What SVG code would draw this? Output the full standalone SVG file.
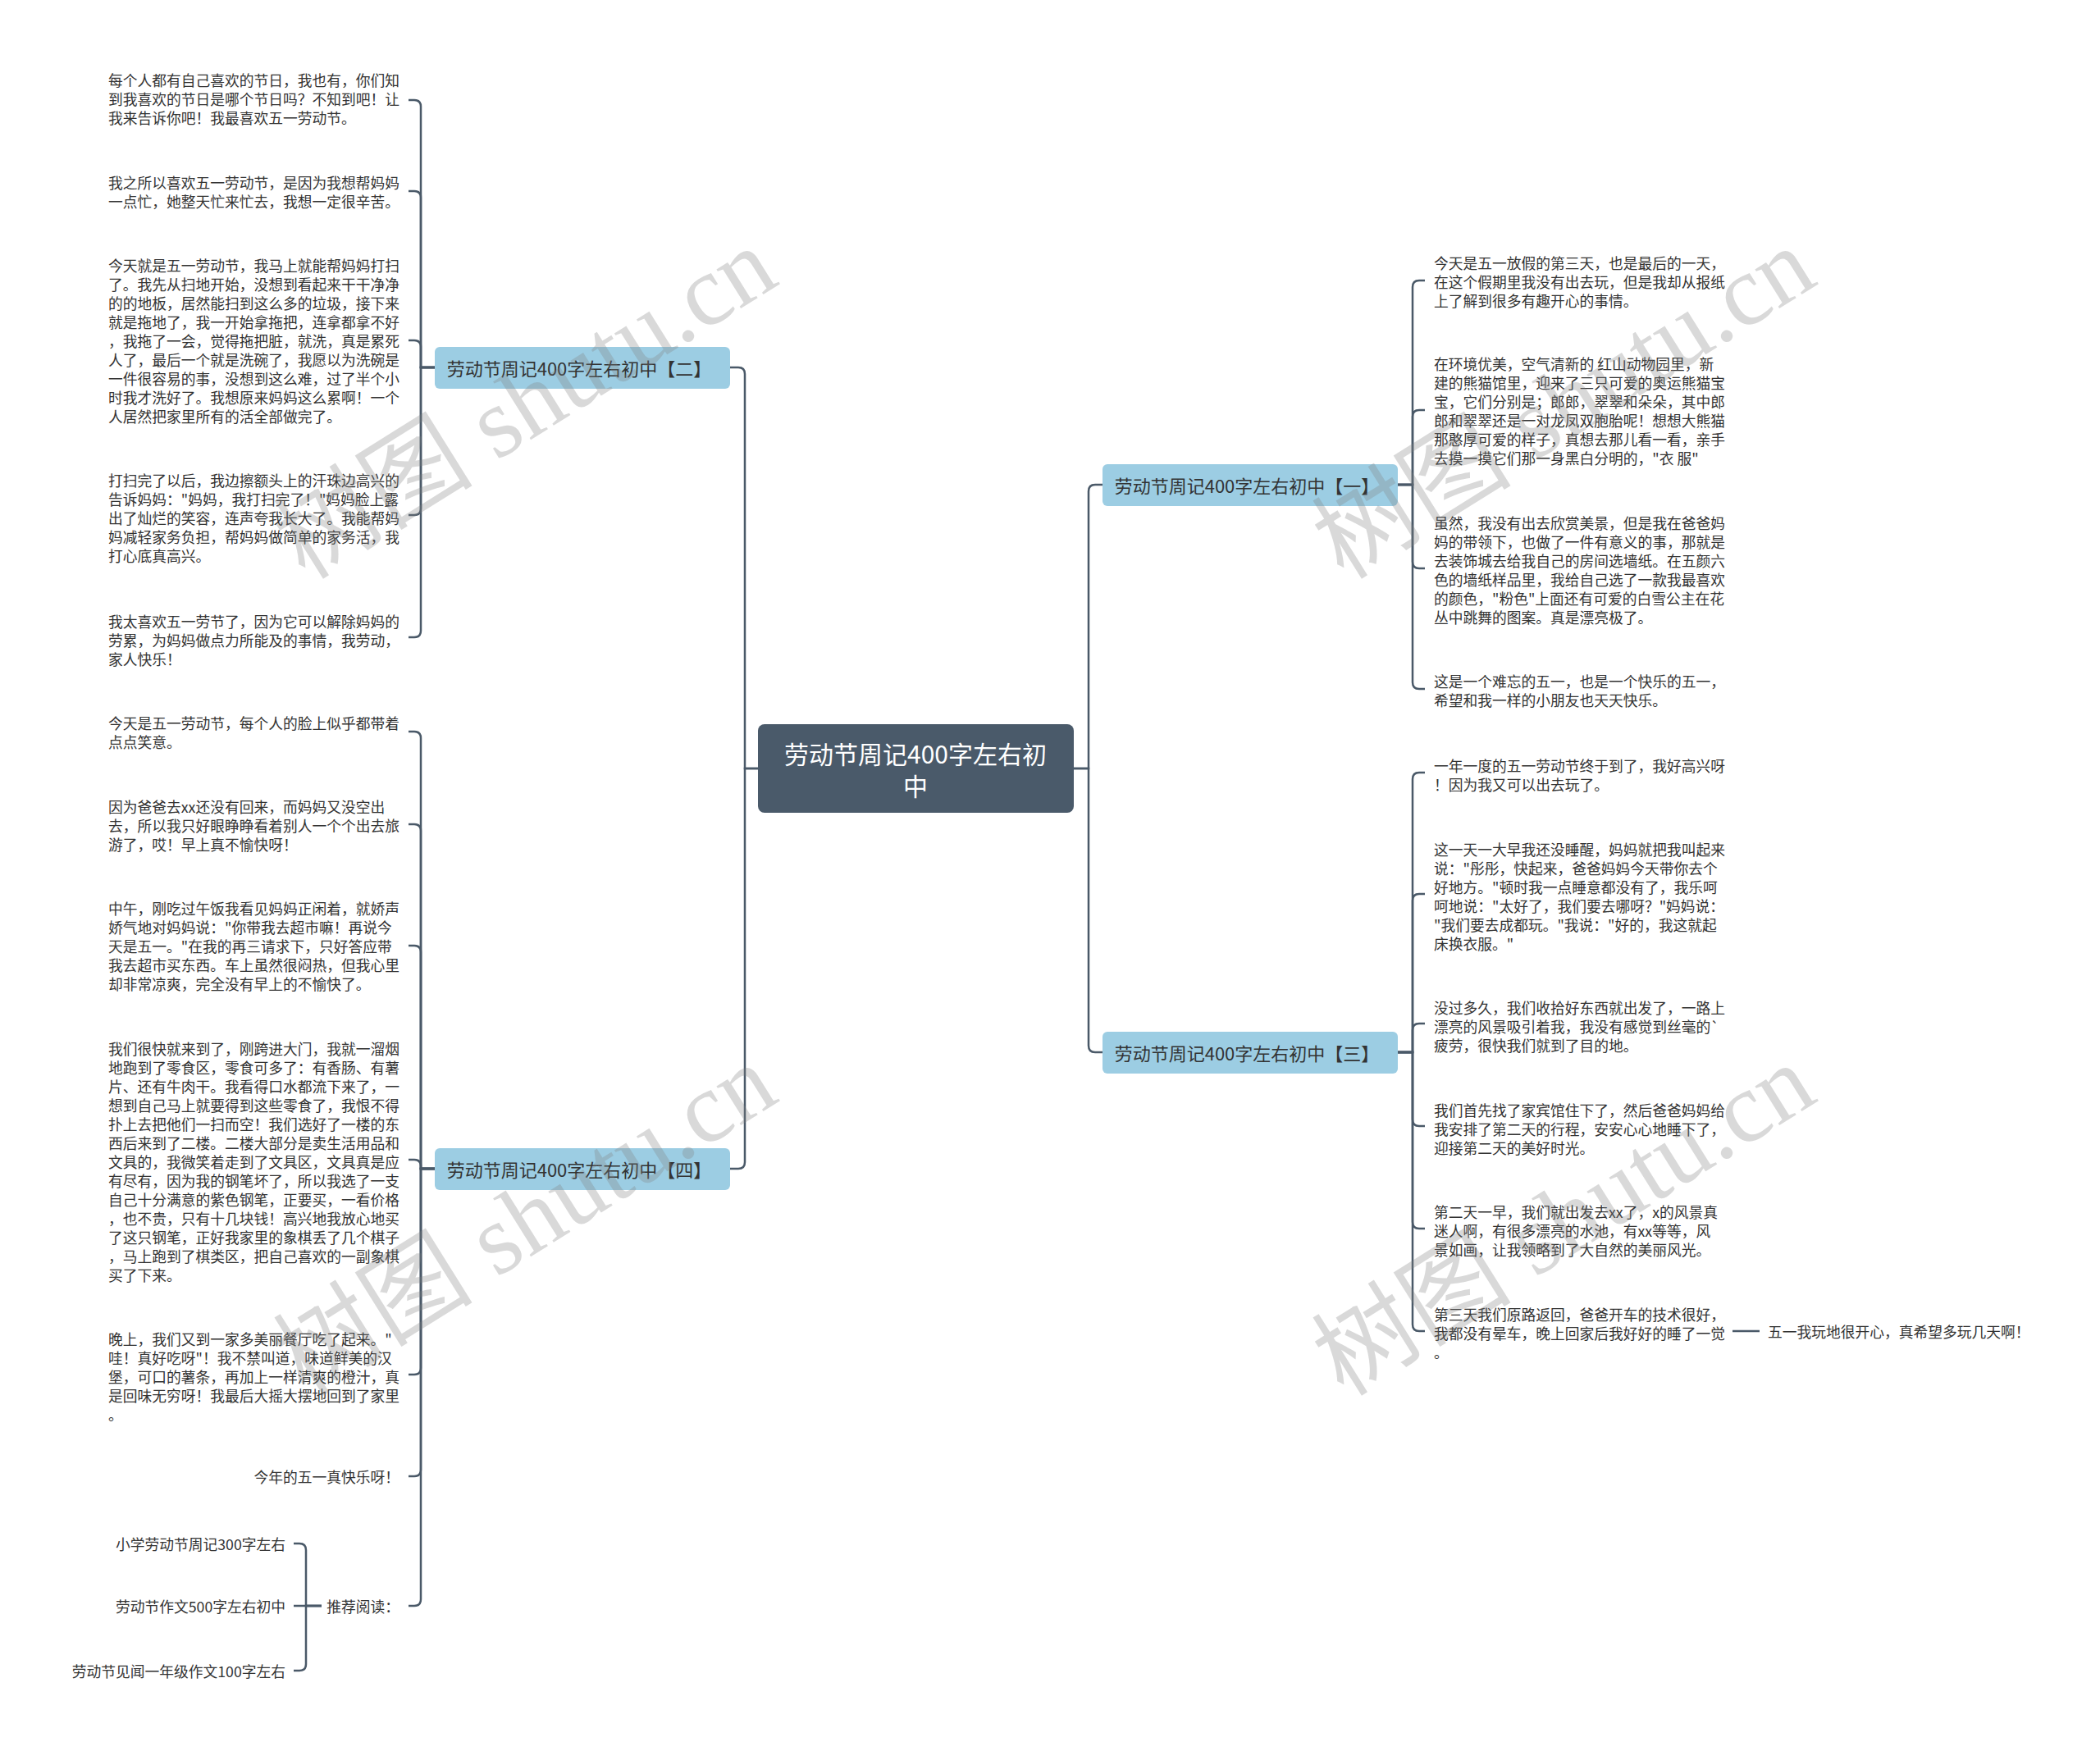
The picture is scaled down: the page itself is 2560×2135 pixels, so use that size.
<svg xmlns="http://www.w3.org/2000/svg" width="2560" height="2135" viewBox="0 0 2560 2135">
<style>
.t{font-family:"Noto Sans CJK SC","Liberation Sans",sans-serif;font-size:17.75px;fill:#333;dominant-baseline:central}
.r{text-anchor:end}
.bn rect{fill:#9ccde3}
.bn text{font-family:"Noto Sans CJK SC","Liberation Sans",sans-serif;font-size:22px;fill:#333;text-anchor:middle;dominant-baseline:central}
.cn rect{fill:#4a5a6a}
.cn text{font-family:"Noto Sans CJK SC","Liberation Sans",sans-serif;font-size:30px;fill:#fff;text-anchor:middle;dominant-baseline:central}
#connectors path{fill:none;stroke:#4a5968;stroke-width:2.5}
.wm{font-family:"Liberation Serif","Noto Sans CJK SC",serif;font-size:122px;fill:#808080;fill-opacity:.3}
</style>
<rect width="2560" height="2135" fill="#fff"/>
<g id="connectors">
<path d="M924,937 H908 V456 Q908,448 900,448 H890"/>
<path d="M924,937 H908 V1417 Q908,1425 900,1425 H890"/>
<path d="M1309,937 H1327 V599 Q1327,591 1335,591 H1344"/>
<path d="M1309,937 H1327 V1275 Q1327,1283 1335,1283 H1344"/>
<path d="M530,448 H513 V130 Q513,122 505,122 H498"/>
<path d="M530,448 H513 V241 Q513,233 505,233 H498"/>
<path d="M530,448 H513 V423 Q513,415 505,415 H498"/>
<path d="M530,448 H513 V620 Q513,628 505,628 H498"/>
<path d="M530,448 H513 V769 Q513,777 505,777 H498"/>
<path d="M530,1425 H513 V900 Q513,892 505,892 H498"/>
<path d="M530,1425 H513 V1013 Q513,1005 505,1005 H498"/>
<path d="M530,1425 H513 V1161 Q513,1153 505,1153 H498"/>
<path d="M530,1425 H513 V1422 Q513,1414 505,1414 H498"/>
<path d="M530,1425 H513 V1668 Q513,1676 505,1676 H498"/>
<path d="M530,1425 H513 V1792 Q513,1800 505,1800 H498"/>
<path d="M530,1425 H513 V1950 Q513,1958 505,1958 H498"/>
<path d="M392,1958 H373 V1890 Q373,1882 365,1882 H358"/>
<path d="M392,1958 H358"/>
<path d="M392,1958 H373 V2029 Q373,2037 365,2037 H358"/>
<path d="M1704,591 H1722 V350 Q1722,342 1730,342 H1737"/>
<path d="M1704,591 H1722 V508 Q1722,500 1730,500 H1737"/>
<path d="M1704,591 H1722 V685 Q1722,693 1730,693 H1737"/>
<path d="M1704,591 H1722 V832 Q1722,840 1730,840 H1737"/>
<path d="M1704,1283 H1722 V950 Q1722,942 1730,942 H1737"/>
<path d="M1704,1283 H1722 V1098 Q1722,1090 1730,1090 H1737"/>
<path d="M1704,1283 H1722 V1256 Q1722,1248 1730,1248 H1737"/>
<path d="M1704,1283 H1722 V1365 Q1722,1373 1730,1373 H1737"/>
<path d="M1704,1283 H1722 V1490 Q1722,1498 1730,1498 H1737"/>
<path d="M1704,1283 H1722 V1615 Q1722,1623 1730,1623 H1737"/>
<path d="M2112,1623 H2145"/>
</g>
<g id="center" class="cn"><rect x="924" y="883" width="385" height="108" rx="8"/><text x="1116" y="918">劳动节周记400字左右初</text><text x="1116" y="957">中</text></g>
<g id="b2" class="bn"><rect x="530" y="423" width="360" height="51" rx="6"/><text x="706" y="448">劳动节周记400字左右初中【二】</text></g>
<g id="b4" class="bn"><rect x="530" y="1400" width="360" height="51" rx="6"/><text x="706" y="1425">劳动节周记400字左右初中【四】</text></g>
<g id="b1" class="bn"><rect x="1344" y="566" width="360" height="51" rx="6"/><text x="1520" y="591">劳动节周记400字左右初中【一】</text></g>
<g id="b3" class="bn"><rect x="1344" y="1258" width="360" height="51" rx="6"/><text x="1520" y="1283">劳动节周记400字左右初中【三】</text></g>

<g id="l2-1"><text class="t" x="132"><tspan x="132" y="97">每个人都有自己喜欢的节日，我也有，你们知</tspan><tspan x="132" y="120">到我喜欢的节日是哪个节日吗？不知到吧！让</tspan><tspan x="132" y="143">我来告诉你吧！我最喜欢五一劳动节。</tspan></text></g>
<g id="l2-2"><text class="t"><tspan x="132" y="222">我之所以喜欢五一劳动节，是因为我想帮妈妈</tspan><tspan x="132" y="245">一点忙，她整天忙来忙去，我想一定很辛苦。</tspan></text></g>
<g id="l2-3"><text class="t"><tspan x="132" y="323">今天就是五一劳动节，我马上就能帮妈妈打扫</tspan><tspan x="132" y="346">了。我先从扫地开始，没想到看起来干干净净</tspan><tspan x="132" y="369">的的地板，居然能扫到这么多的垃圾，接下来</tspan><tspan x="132" y="392">就是拖地了，我一开始拿拖把，连拿都拿不好</tspan><tspan x="132" y="415">，我拖了一会，觉得拖把脏，就洗，真是累死</tspan><tspan x="132" y="438">人了，最后一个就是洗碗了，我愿以为洗碗是</tspan><tspan x="132" y="461">一件很容易的事，没想到这么难，过了半个小</tspan><tspan x="132" y="484">时我才洗好了。我想原来妈妈这么累啊！一个</tspan><tspan x="132" y="507">人居然把家里所有的活全部做完了。</tspan></text></g>
<g id="l2-4"><text class="t"><tspan x="132" y="585">打扫完了以后，我边擦额头上的汗珠边高兴的</tspan><tspan x="132" y="608">告诉妈妈："妈妈，我打扫完了！"妈妈脸上露</tspan><tspan x="132" y="631">出了灿烂的笑容，连声夸我长大了。我能帮妈</tspan><tspan x="132" y="654">妈减轻家务负担，帮妈妈做简单的家务活，我</tspan><tspan x="132" y="677">打心底真高兴。</tspan></text></g>
<g id="l2-5"><text class="t"><tspan x="132" y="757">我太喜欢五一劳节了，因为它可以解除妈妈的</tspan><tspan x="132" y="780">劳累，为妈妈做点力所能及的事情，我劳动，</tspan><tspan x="132" y="803">家人快乐！</tspan></text></g>

<g id="l4-1"><text class="t"><tspan x="132" y="881">今天是五一劳动节，每个人的脸上似乎都带着</tspan><tspan x="132" y="904">点点笑意。</tspan></text></g>
<g id="l4-2"><text class="t"><tspan x="132" y="983">因为爸爸去xx还没有回来，而妈妈又没空出</tspan><tspan x="132" y="1006">去，所以我只好眼睁睁看着别人一个个出去旅</tspan><tspan x="132" y="1029">游了，哎！早上真不愉快呀！</tspan></text></g>
<g id="l4-3"><text class="t"><tspan x="132" y="1107">中午，刚吃过午饭我看见妈妈正闲着，就娇声</tspan><tspan x="132" y="1130">娇气地对妈妈说："你带我去超市嘛！再说今</tspan><tspan x="132" y="1153">天是五一。"在我的再三请求下，只好答应带</tspan><tspan x="132" y="1176">我去超市买东西。车上虽然很闷热，但我心里</tspan><tspan x="132" y="1199">却非常凉爽，完全没有早上的不愉快了。</tspan></text></g>
<g id="l4-4"><text class="t"><tspan x="132" y="1278">我们很快就来到了，刚跨进大门，我就一溜烟</tspan><tspan x="132" y="1301">地跑到了零食区，零食可多了：有香肠、有薯</tspan><tspan x="132" y="1324">片、还有牛肉干。我看得口水都流下来了，一</tspan><tspan x="132" y="1347">想到自己马上就要得到这些零食了，我恨不得</tspan><tspan x="132" y="1370">扑上去把他们一扫而空！我们选好了一楼的东</tspan><tspan x="132" y="1393">西后来到了二楼。二楼大部分是卖生活用品和</tspan><tspan x="132" y="1416">文具的，我微笑着走到了文具区，文具真是应</tspan><tspan x="132" y="1439">有尽有，因为我的钢笔坏了，所以我选了一支</tspan><tspan x="132" y="1462">自己十分满意的紫色钢笔，正要买，一看价格</tspan><tspan x="132" y="1485">，也不贵，只有十几块钱！高兴地我放心地买</tspan><tspan x="132" y="1508">了这只钢笔，正好我家里的象棋丢了几个棋子</tspan><tspan x="132" y="1531">，马上跑到了棋类区，把自己喜欢的一副象棋</tspan><tspan x="132" y="1554">买了下来。</tspan></text></g>
<g id="l4-5"><text class="t"><tspan x="132" y="1632">晚上，我们又到一家多美丽餐厅吃了起来。"</tspan><tspan x="132" y="1655">哇！真好吃呀"！我不禁叫道，味道鲜美的汉</tspan><tspan x="132" y="1678">堡，可口的薯条，再加上一样清爽的橙汁，真</tspan><tspan x="132" y="1701">是回味无穷呀！我最后大摇大摆地回到了家里</tspan><tspan x="132" y="1724">。</tspan></text></g>
<g id="l4-6"><text class="t r" x="487" y="1800">今年的五一真快乐呀！</text></g>
<g id="l4-7"><text class="t r" x="487" y="1958">推荐阅读：</text></g>
<g id="r1"><text class="t r" x="348" y="1882">小学劳动节周记300字左右</text></g>
<g id="r2"><text class="t r" x="348" y="1958">劳动节作文500字左右初中</text></g>
<g id="r3"><text class="t r" x="348" y="2037">劳动节见闻一年级作文100字左右</text></g>

<g id="l1-1"><text class="t"><tspan x="1748" y="320">今天是五一放假的第三天，也是最后的一天，</tspan><tspan x="1748" y="343">在这个假期里我没有出去玩，但是我却从报纸</tspan><tspan x="1748" y="366">上了解到很多有趣开心的事情。</tspan></text></g>
<g id="l1-2"><text class="t"><tspan x="1748" y="443">在环境优美，空气清新的 红山动物园里，新</tspan><tspan x="1748" y="466">建的熊猫馆里，迎来了三只可爱的奥运熊猫宝</tspan><tspan x="1748" y="489">宝，它们分别是；郎郎，翠翠和朵朵，其中郎</tspan><tspan x="1748" y="512">郎和翠翠还是一对龙凤双胞胎呢！想想大熊猫</tspan><tspan x="1748" y="535">那憨厚可爱的样子，真想去那儿看一看，亲手</tspan><tspan x="1748" y="558">去摸一摸它们那一身黑白分明的，"衣 服"</tspan></text></g>
<g id="l1-3"><text class="t"><tspan x="1748" y="637">虽然，我没有出去欣赏美景，但是我在爸爸妈</tspan><tspan x="1748" y="660">妈的带领下，也做了一件有意义的事，那就是</tspan><tspan x="1748" y="683">去装饰城去给我自己的房间选墙纸。在五颜六</tspan><tspan x="1748" y="706">色的墙纸样品里，我给自己选了一款我最喜欢</tspan><tspan x="1748" y="729">的颜色，"粉色"上面还有可爱的白雪公主在花</tspan><tspan x="1748" y="752">丛中跳舞的图案。真是漂亮极了。</tspan></text></g>
<g id="l1-4"><text class="t"><tspan x="1748" y="830">这是一个难忘的五一，也是一个快乐的五一，</tspan><tspan x="1748" y="853">希望和我一样的小朋友也天天快乐。</tspan></text></g>

<g id="l3-1"><text class="t"><tspan x="1748" y="933">一年一度的五一劳动节终于到了，我好高兴呀</tspan><tspan x="1748" y="956">！因为我又可以出去玩了。</tspan></text></g>
<g id="l3-2"><text class="t"><tspan x="1748" y="1035">这一天一大早我还没睡醒，妈妈就把我叫起来</tspan><tspan x="1748" y="1058">说："彤彤，快起来，爸爸妈妈今天带你去个</tspan><tspan x="1748" y="1081">好地方。"顿时我一点睡意都没有了，我乐呵</tspan><tspan x="1748" y="1104">呵地说："太好了，我们要去哪呀？"妈妈说：</tspan><tspan x="1748" y="1127">"我们要去成都玩。"我说："好的，我这就起</tspan><tspan x="1748" y="1150">床换衣服。"</tspan></text></g>
<g id="l3-3"><text class="t"><tspan x="1748" y="1228">没过多久，我们收拾好东西就出发了，一路上</tspan><tspan x="1748" y="1251">漂亮的风景吸引着我，我没有感觉到丝毫的`</tspan><tspan x="1748" y="1274">疲劳，很快我们就到了目的地。</tspan></text></g>
<g id="l3-4"><text class="t"><tspan x="1748" y="1353">我们首先找了家宾馆住下了，然后爸爸妈妈给</tspan><tspan x="1748" y="1376">我安排了第二天的行程，安安心心地睡下了，</tspan><tspan x="1748" y="1399">迎接第二天的美好时光。</tspan></text></g>
<g id="l3-5"><text class="t"><tspan x="1748" y="1477">第二天一早，我们就出发去xx了，x的风景真</tspan><tspan x="1748" y="1500">迷人啊，有很多漂亮的水池，有xx等等，风</tspan><tspan x="1748" y="1523">景如画，让我领略到了大自然的美丽风光。</tspan></text></g>
<g id="l3-6"><text class="t"><tspan x="1748" y="1602">第三天我们原路返回，爸爸开车的技术很好，</tspan><tspan x="1748" y="1625">我都没有晕车，晚上回家后我好好的睡了一觉</tspan><tspan x="1748" y="1648">。</tspan></text></g>
<g id="l3-6-1"><text class="t" x="2155" y="1623">五一我玩地很开心，真希望多玩几天啊！</text></g>

<g id="watermarks">
<text class="wm" transform="translate(372,708) rotate(-32)">树图 shutu.cn</text>
<text class="wm" transform="translate(372,1704) rotate(-32)">树图 shutu.cn</text>
<text class="wm" transform="translate(1638,708) rotate(-32)">树图 shutu.cn</text>
<text class="wm" transform="translate(1638,1704) rotate(-32)">树图 shutu.cn</text>
</g>
</svg>
